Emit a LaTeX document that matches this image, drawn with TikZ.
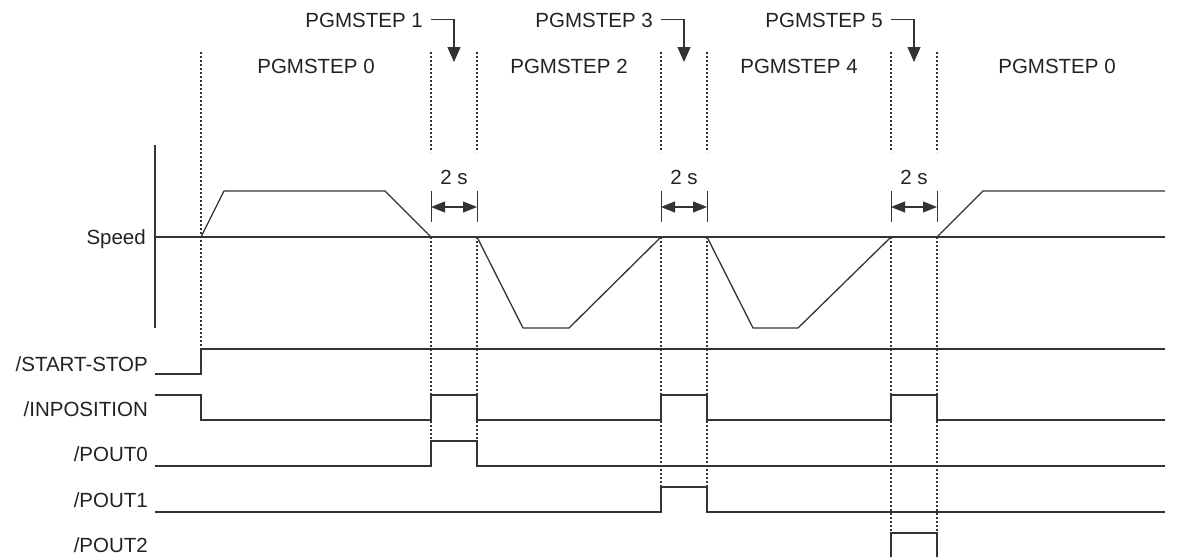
\documentclass[tikz,border=0pt]{standalone}
\usepackage{fontspec}
\setmainfont{Liberation Sans}
\usetikzlibrary{arrows.meta, positioning}
\definecolor{ink}{HTML}{222222}
\definecolor{trace}{HTML}{333333}

\begin{document}
\begin{tikzpicture}[x=1pt, y=-1pt,
    every node/.style={font=\fontsize{20.5}{24}\selectfont, inner sep=0pt, text=ink},
    wave/.style={line width=1.3pt, draw=trace},
    guide/.style={line width=1.2pt, draw=trace, dash pattern=on 2pt off 2pt},
    tick/.style={line width=1pt, draw=trace},
    marker/.style={line width=1.1pt, draw=trace, -{Triangle[length=15pt, width=13pt]}},
    span/.style={line width=1.1pt, draw=trace,
                 {Triangle[length=14pt, width=11pt]}-{Triangle[length=14pt, width=11pt]}}
]
    \useasboundingbox (0,0) rectangle (1177,557);

    % step names
    \node[anchor=base] (s0a) at (316,73) {PGMSTEP 0};
    \node[anchor=base] (s2)  at (569,73) {PGMSTEP 2};
    \node[anchor=base] (s4)  at (799,73) {PGMSTEP 4};
    \node[anchor=base] (s0b) at (1057,73) {PGMSTEP 0};
    \node[anchor=base east] (s1) at (423,27) {PGMSTEP 1};
    \node[anchor=base east] (s3) at (653,27) {PGMSTEP 3};
    \node[anchor=base east] (s5) at (883,27) {PGMSTEP 5};
    \coordinate (s1tip) at (454,62);
    \coordinate (s3tip) at (684,62);
    \coordinate (s5tip) at (914,62);
    \draw[marker] ([xshift=8pt]s1.east) -| (s1tip);
    \draw[marker] ([xshift=8pt]s3.east) -| (s3tip);
    \draw[marker] ([xshift=8pt]s5.east) -| (s5tip);

    % signal names
    \node[anchor=base east] (speed) at (146,244) {Speed};
    \node[anchor=base east] (ss)  at (148,371) {/START-STOP};
    \node[anchor=base east] (inp) at (148,416) {/INPOSITION};
    \node[anchor=base east] (p0)  at (148,461) {/POUT0};
    \node[anchor=base east] (p1)  at (148,507) {/POUT1};
    \node[anchor=base east] (p2)  at (148,552) {/POUT2};

    % guides
    \draw[guide] (201,52) -- (201,349);
    \foreach \xa/\xb/\yend in {431/477/466, 661/707/512, 891/937/557} {
        \draw[guide] (\xa,52) -- (\xa,152) (\xb,52) -- (\xb,152);
        \draw[guide] (\xa,237) -- (\xa,\yend) (\xb,237) -- (\xb,\yend);
        \draw[tick] (\xa,191) -- (\xa,222) (\xb,191) -- (\xb,222);
        \draw[span] (\xa,207) -- (\xb,207);
        \node[anchor=base] at ({(\xa+\xb)/2},184) {2 s};
    }

    % speed
    \draw[wave] (155,145) -- (155,328);
    \draw[wave] (155,237) -- (1165,237);
    \draw[wave] (201,237) -- (224,191) -- (385,191) -- (431,237) -- (477,237)
        -- (523,328) -- (569,328) -- (661,237) -- (707,237)
        -- (753,328) -- (798,328) -- (891,237) -- (937,237)
        -- (983,191) -- (1165,191);

    % outputs
    \draw[wave] (155,374) -- (201,374) -- (201,349) -- (1165,349);
    \draw[wave] (155,395) -- (201,395) -- (201,420) -- (431,420) -- (431,395)
        -- (477,395) -- (477,420) -- (661,420) -- (661,395) -- (707,395)
        -- (707,420) -- (891,420) -- (891,395) -- (937,395) -- (937,420)
        -- (1165,420);
    \draw[wave] (155,466) -- (431,466) -- (431,441) -- (477,441) -- (477,466) -- (1165,466);
    \draw[wave] (155,512) -- (661,512) -- (661,487) -- (707,487) -- (707,512) -- (1165,512);
    \draw[wave] (891,557) -- (891,533) -- (937,533) -- (937,557);
\end{tikzpicture}
\end{document}
